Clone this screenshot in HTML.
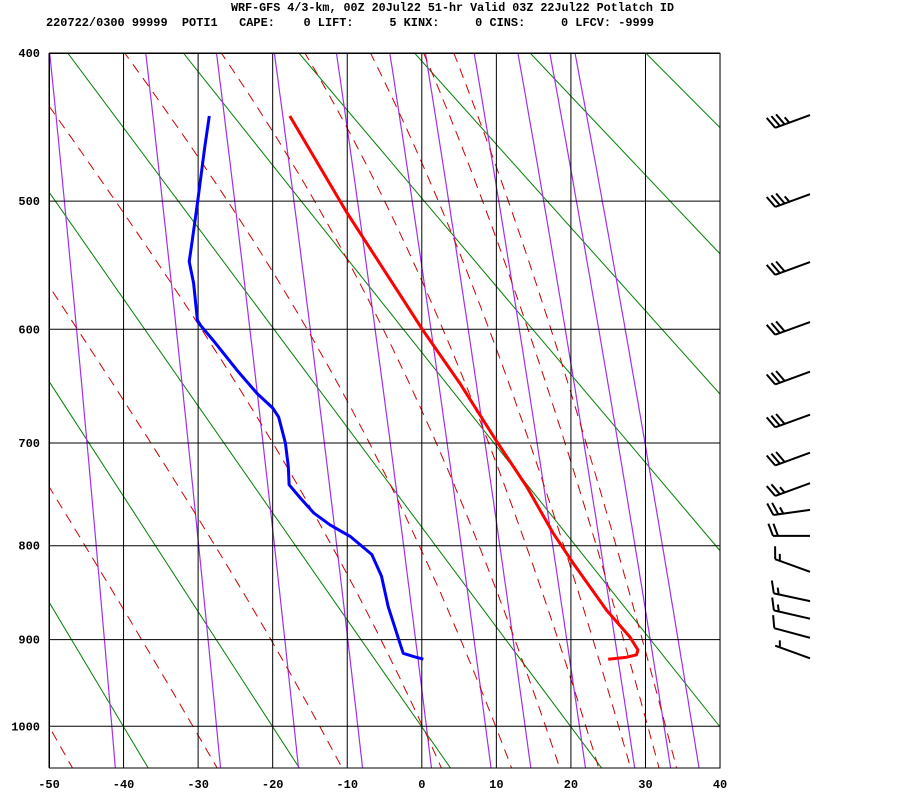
<!DOCTYPE html>
<html><head><meta charset="utf-8"><style>
html,body{margin:0;padding:0;background:#fff;}
svg{display:block;}
text{font-family:"Liberation Mono",monospace;font-weight:bold;fill:#000;}
</style></head><body>
<svg id="chart" width="900" height="800" viewBox="0 0 900 800" xmlns="http://www.w3.org/2000/svg">
<defs><clipPath id="plotclip"><rect x="49" y="53" width="671" height="715"/></clipPath></defs>
<text x="231" y="11" font-size="12" textLength="443" lengthAdjust="spacingAndGlyphs" xml:space="preserve">WRF-GFS 4/3-km, 00Z 20Jul22 51-hr Valid 03Z 22Jul22 Potlatch ID</text>
<text x="46" y="26" font-size="12" textLength="608" lengthAdjust="spacingAndGlyphs" xml:space="preserve">220722/0300 99999  POTI1   CAPE:    0 LIFT:     5 KINX:     0 CINS:     0 LFCV: -9999</text>
<g id="bg" clip-path="url(#plotclip)"></g>
<g id="grid"></g>
<g id="snd" clip-path="url(#plotclip)"></g>
<g id="labels"></g>
<g id="barbs"></g>
<rect x="49.5" y="53.5" width="670.5" height="714.5" fill="none" stroke="#000" stroke-width="1"/>
</svg>
<script>
const tempTicks = [-50,-40,-30,-20,-10,0,10,20,30,40];
const presTicks = [400,500,600,700,800,900,1000];
const mixRatios = [0.1,0.4,1,2,4,7,10,16,24,32,40];
const moistT1000 = [-70,-50,-30.7,-13.7,0.1,9.9,16.6,22,26.4,30.3,32.7];
const greenIdx = [-4,-3,-2,-1,0,1,2,3,4,5];
const tempP = [440.6,508,572,599.4,646,698,741.6,787,818,868,897,911.6,917,919.7,922];
const tempT = [-17.7,-10.1,-2.9,0.0,5.1,10.0,14.1,17.6,20.3,24.8,27.9,29.0,28.8,27.5,25.0];
const dewP = [440.6,461.5,501.7,534,545.5,562.5,592.5,596.6,609,634.6,655,668,676,700,721.9,739.4,752.3,767,779,790.5,809,831.6,864,897,915.3,919,922];
const dewT = [-28.5,-29.1,-30.1,-30.9,-31.2,-30.6,-30.1,-29.7,-28.0,-24.8,-22.1,-20.0,-19.2,-18.3,-17.9,-17.8,-16.3,-14.5,-12.3,-9.6,-6.7,-5.4,-4.5,-3.2,-2.5,-1.1,0.2];
const windP = [440,495,546,594,636,674,709,738,764,790,827,858,877,898,921];
const windDir = [250,250,250,250,250,250,250,250,262,270,290,282,283,285,290];
const windSpd = [35,35,30,30,30,30,30,25,25,20,15,15,15,10,5];

const NS='http://www.w3.org/2000/svg';
const K=0.286, P0k=Math.pow(400,K);
function xOf(T){return 49+(T+50)*7.456;}
function yOf(P){return 53+405*(Math.pow(P,K)-P0k);}
function mk(tag,attrs,parent){const e=document.createElementNS(NS,tag);for(const k in attrs)e.setAttribute(k,attrs[k]);parent.appendChild(e);return e;}
const bg=document.getElementById('bg'),grid=document.getElementById('grid'),snd=document.getElementById('snd'),lab=document.getElementById('labels'),barbs=document.getElementById('barbs');
const Ps=[];for(let p=390;p<=1060;p+=5)Ps.push(p);

// green reference lines
greenIdx.forEach(k=>{
  const xt=67.7+115.6*k, xb=571+149.1*k;
  const s=(xb-xt)/674;
  const el=mk('line',{x1:xt,y1:53,x2:xt+s*715,y2:768,stroke:'#008000','stroke-width':1},bg);
  
  
});
// mixing ratio lines
mixRatios.forEach(w=>{
  const d=Ps.map((P,i)=>{const e=w*P/(622+w);const l=Math.log(e/6.112);const T=243.5*l/(17.67-l);return (i?'L':'M')+xOf(T).toFixed(1)+','+yOf(P).toFixed(1);}).join('');
  const el=mk('path',{d:d,fill:'none',stroke:'#a030f0','stroke-width':1.2},bg);
  
  
});
// moist adiabats (pseudoadiabatic integration)
function dTdp(T,P){
  const Rd=287.04,Cp=1005.7,Lv=2.501e6,eps=0.622;
  const Tc=T-273.15;
  const es=6.112*Math.exp(17.67*Tc/(Tc+243.5));
  const rs=eps*es/(P-es);
  return (1/P)*(Rd*T+Lv*rs)/(Cp+(Lv*Lv*rs*eps)/(Rd*T*T));
}
function moistPath(T0){
  const pts={};
  let T=T0+273.15;pts[1000]=T;
  for(let P=1000;P>390;P-=1){T-=dTdp(T,P);if((P-1)%5===0)pts[P-1]=T;}
  T=T0+273.15;
  for(let P=1000;P<1060;P+=1){T+=dTdp(T,P);if((P+1)%5===0)pts[P+1]=T;}
  return Ps.map((P,i)=>(i?'L':'M')+xOf(pts[P]-273.15).toFixed(1)+','+yOf(P).toFixed(1)).join('');
}
moistT1000.forEach(t=>{
  const el=mk('path',{d:moistPath(t),fill:'none',stroke:'#d00000','stroke-width':1,'stroke-dasharray':'10,7'},bg);
  
  
});
// grid
tempTicks.forEach(T=>{
  const el=mk('line',{x1:xOf(T),y1:53,x2:xOf(T),y2:768,stroke:'#000','stroke-width':1},grid);
  
  
  const t=mk('text',{x:xOf(T),y:788,'font-size':12,'text-anchor':'middle'},lab);
  t.textContent=String(T);
  
  
});
presTicks.forEach(P=>{
  const el=mk('line',{x1:49,y1:yOf(P),x2:720,y2:yOf(P),stroke:'#000','stroke-width':1},grid);
  
  
  const t=mk('text',{x:40,y:yOf(P)+4,'font-size':12,'text-anchor':'end'},lab);
  t.textContent=String(P);
  
  
});
// sounding
function prof(Pa,Ta){return Pa.map((P,i)=>(i?'L':'M')+xOf(Ta[i]).toFixed(1)+','+yOf(P).toFixed(1)).join('');}
const tl=mk('path',{d:prof(tempP,tempT),fill:'none',stroke:'#ff0000','stroke-width':3,'stroke-linejoin':'round'},snd);


const dl=mk('path',{d:prof(dewP,dewT),fill:'none',stroke:'#0000ff','stroke-width':3,'stroke-linejoin':'round'},snd);


// wind barbs
windP.forEach((P,i)=>{
  const a=windDir[i]*Math.PI/180;
  const sx=Math.sin(a), sy=-Math.cos(a);
  const L=37, x0=810, y0=yOf(P);
  const tx=x0+sx*L, ty=y0+sy*L;
  const px=-sy, py=sx;
  const c=0.35, s=0.94;
  const bx=c*sx+s*px, by=c*sy+s*py;
  let d='M'+x0+','+y0.toFixed(1)+'L'+tx.toFixed(1)+','+ty.toFixed(1);
  let spd=windSpd[i], pos=0;
  while(spd>=10){const qx=tx-sx*pos*5, qy=ty-sy*pos*5;d+='M'+qx.toFixed(1)+','+qy.toFixed(1)+'l'+(bx*13).toFixed(1)+','+(by*13).toFixed(1);spd-=10;pos++;}
  if(spd>=5){if(pos===0)pos=1;const qx=tx-sx*pos*5, qy=ty-sy*pos*5;d+='M'+qx.toFixed(1)+','+qy.toFixed(1)+'l'+(bx*7).toFixed(1)+','+(by*7).toFixed(1);}
  const el=mk('path',{d:d,fill:'none',stroke:'#000','stroke-width':2},barbs);
  
  
});
</script>
</body></html>
